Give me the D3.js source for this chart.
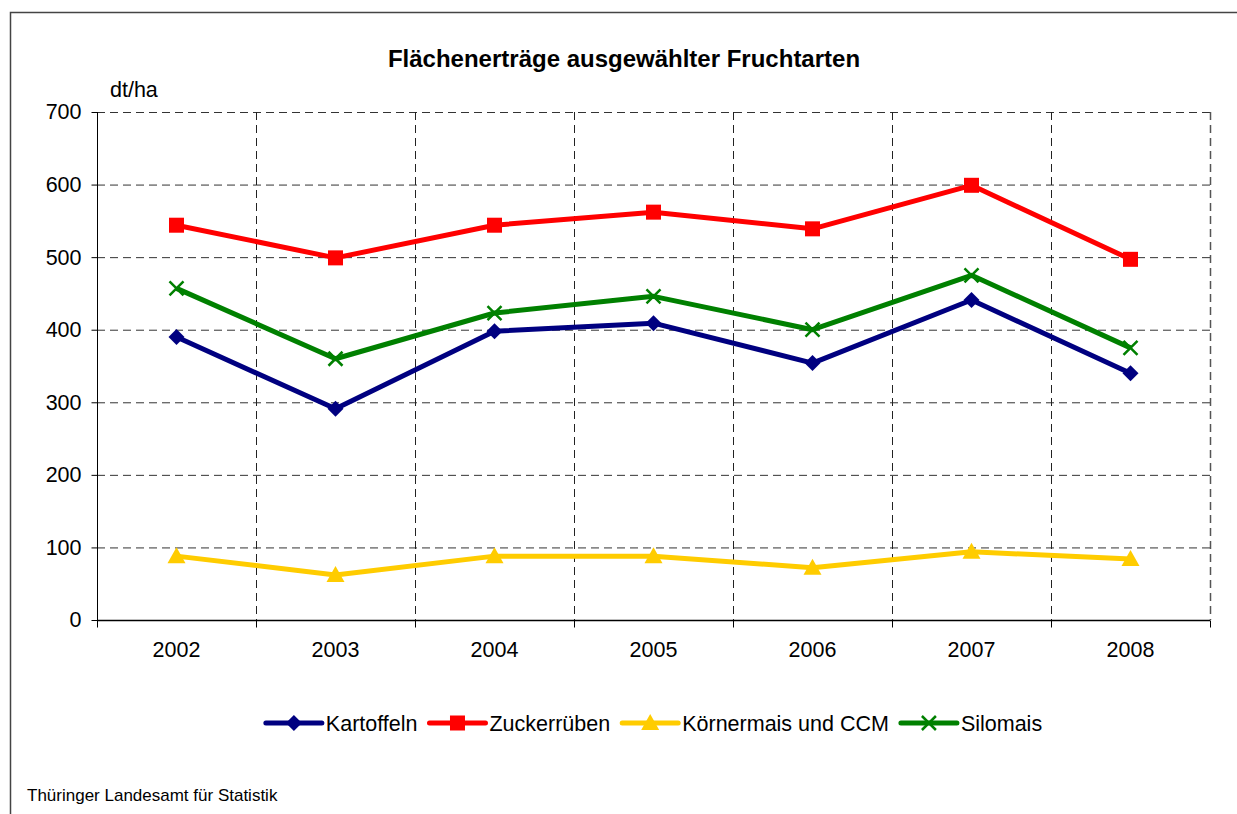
<!DOCTYPE html>
<html>
<head>
<meta charset="utf-8">
<script src="https://cdn.jsdelivr.net/npm/d3@7"></script>
<style>
  body { margin: 0; background: #fff; }
  svg { font-family: "Liberation Sans", Arial, sans-serif; display: block; }
</style>
</head>
<body>
<svg id="chart" width="1237" height="814"></svg>
<script>
// Data
const years = ["2002", "2003", "2004", "2005", "2006", "2007", "2008"];
const kartoffeln = [390, 291, 398, 409, 354, 441, 340];
const zuckerrueben = [544, 499, 544, 562, 539, 599, 497];
const koernermais = [88, 62, 88, 88, 72, 94, 84];
const silomais = [457, 360, 423, 446, 400, 475, 375];
const yTicks = [0, 100, 200, 300, 400, 500, 600, 700];

const series = [
    { name: "Kartoffeln", values: kartoffeln, color: "#000080", marker: "diamond" },
    { name: "Zuckerrüben", values: zuckerrueben, color: "#ff0000", marker: "square" },
    { name: "Körnermais und CCM", values: koernermais, color: "#ffcc00", marker: "triangle" },
    { name: "Silomais", values: silomais, color: "#008000", marker: "cross" }
];

const svg = d3.select("#chart");
const plotLeft = 97, plotRight = 1210, plotTop = 112, plotBottom = 620;

// outer frame (runs off the right and bottom edges)
svg.append("rect")
    .attr("x", 10.5).attr("y", 12.5)
    .attr("width", 1300).attr("height", 900)
    .attr("fill", "none").attr("stroke", "#444").attr("stroke-width", 1.5);

const x = d3.scaleBand().domain(years).range([plotLeft, plotRight]);
const y = d3.scaleLinear().domain([0, 700]).range([plotBottom, plotTop]);

// horizontal grid
svg.append("g")
    .selectAll("line")
    .data(yTicks.filter(d => d > 0))
    .join("line")
    .attr("x1", plotLeft).attr("x2", plotRight)
    .attr("y1", d => y(d) + 0.5).attr("y2", d => y(d) + 0.5)
    .attr("stroke", "#333").attr("stroke-width", 1)
    .attr("stroke-dasharray", "8,5");

// vertical grid at category boundaries
const bounds = years.slice(1).map(d => x(d)).concat([plotRight]);
svg.append("g")
    .selectAll("line")
    .data(bounds)
    .join("line")
    .attr("x1", d => Math.round(d) + 0.5).attr("x2", d => Math.round(d) + 0.5)
    .attr("y1", plotTop).attr("y2", plotBottom)
    .attr("stroke", (d, i) => i === bounds.length - 1 ? "#555" : "#222")
    .attr("stroke-width", (d, i) => i === bounds.length - 1 ? 1.5 : 1)
    .attr("stroke-dasharray", "8,5");

// y axis
const yAxis = svg.append("g")
    .attr("transform", `translate(${plotLeft + 0.5},0)`)
    .call(d3.axisLeft(y).tickValues(yTicks).tickSize(6).tickPadding(10));
yAxis.select(".domain").attr("stroke", "#000").attr("d", `M0,${plotTop}V${plotBottom}`);
yAxis.selectAll("text").style("font-size", "21.5px").attr("fill", "#000");

// x axis
const xAxis = svg.append("g")
    .attr("transform", `translate(0,${plotBottom + 0.5})`)
    .call(d3.axisBottom(x).tickSize(0).tickPadding(21));
xAxis.select(".domain").attr("stroke", "#000").attr("stroke-width", 1.5).attr("d", `M${plotLeft},0H${plotRight}`);
xAxis.selectAll("text").style("font-size", "21.5px").attr("fill", "#000");
xAxis.selectAll(".bound")
    .data([plotLeft].concat(bounds))
    .join("line")
    .attr("class", "bound")
    .attr("x1", d => Math.round(d) + 0.5).attr("x2", d => Math.round(d) + 0.5)
    .attr("y1", 0).attr("y2", 7)
    .attr("stroke", "#000");

// title, unit, source
svg.append("text")
    .attr("x", 624).attr("y", 67)
    .attr("text-anchor", "middle")
    .style("font-size", "24px").style("font-weight", "bold")
    .text("Flächenerträge ausgewählter Fruchtarten");

svg.append("text")
    .attr("x", 110).attr("y", 97)
    .style("font-size", "21.5px")
    .text("dt/ha");

svg.append("text")
    .attr("x", 27).attr("y", 801)
    .style("font-size", "17px")
    .text("Thüringer Landesamt für Statistik");

function drawMarker(g, type, color) {
    if (type === "diamond") {
        g.append("path").attr("d", "M0,-8L8,0L0,8L-8,0Z").attr("fill", color);
    } else if (type === "square") {
        g.append("rect").attr("x", -7.5).attr("y", -7.5).attr("width", 15).attr("height", 15).attr("fill", color);
    } else if (type === "triangle") {
        g.append("path").attr("d", "M0,-9L9,7L-9,7Z").attr("fill", color);
    } else if (type === "cross") {
        g.append("path").attr("d", "M-7,-7L7,7M-7,7L7,-7")
            .attr("stroke", color).attr("stroke-width", 2.5).attr("fill", "none");
    }
}

const line = d3.line()
    .x((d, i) => x(years[i]) + x.bandwidth() / 2)
    .y(d => y(d));

// draw in reverse order so Kartoffeln sits on top
series.slice().reverse().forEach(s => {
    svg.append("path")
        .datum(s.values)
        .attr("d", line)
        .attr("fill", "none")
        .attr("stroke", s.color)
        .attr("stroke-width", 5)
        .attr("stroke-linejoin", "round");
    s.values.forEach((v, i) => {
        const g = svg.append("g")
            .attr("transform", `translate(${x(years[i]) + x.bandwidth() / 2},${y(v)})`);
        drawMarker(g, s.marker, s.color);
    });
});

// legend
const legend = svg.append("g");
let lx = 0;
series.forEach(s => {
    const g = legend.append("g");
    g.append("line")
        .attr("x1", 0).attr("x2", 56).attr("y1", 0).attr("y2", 0)
        .attr("stroke", s.color).attr("stroke-width", 5).attr("stroke-linecap", "round");
    const m = g.append("g").attr("transform", "translate(28,0)");
    drawMarker(m, s.marker, s.color);
    const t = g.append("text")
        .attr("x", 60).attr("y", 8)
        .style("font-size", "21.5px")
        .text(s.name);
    const w = 60 + t.node().getComputedTextLength();
    g.attr("transform", `translate(${lx},0)`);
    lx += w + 12;
});
const legendWidth = lx - 12;
legend.attr("transform", `translate(${654 - legendWidth / 2},723)`);
</script>
</body>
</html>
